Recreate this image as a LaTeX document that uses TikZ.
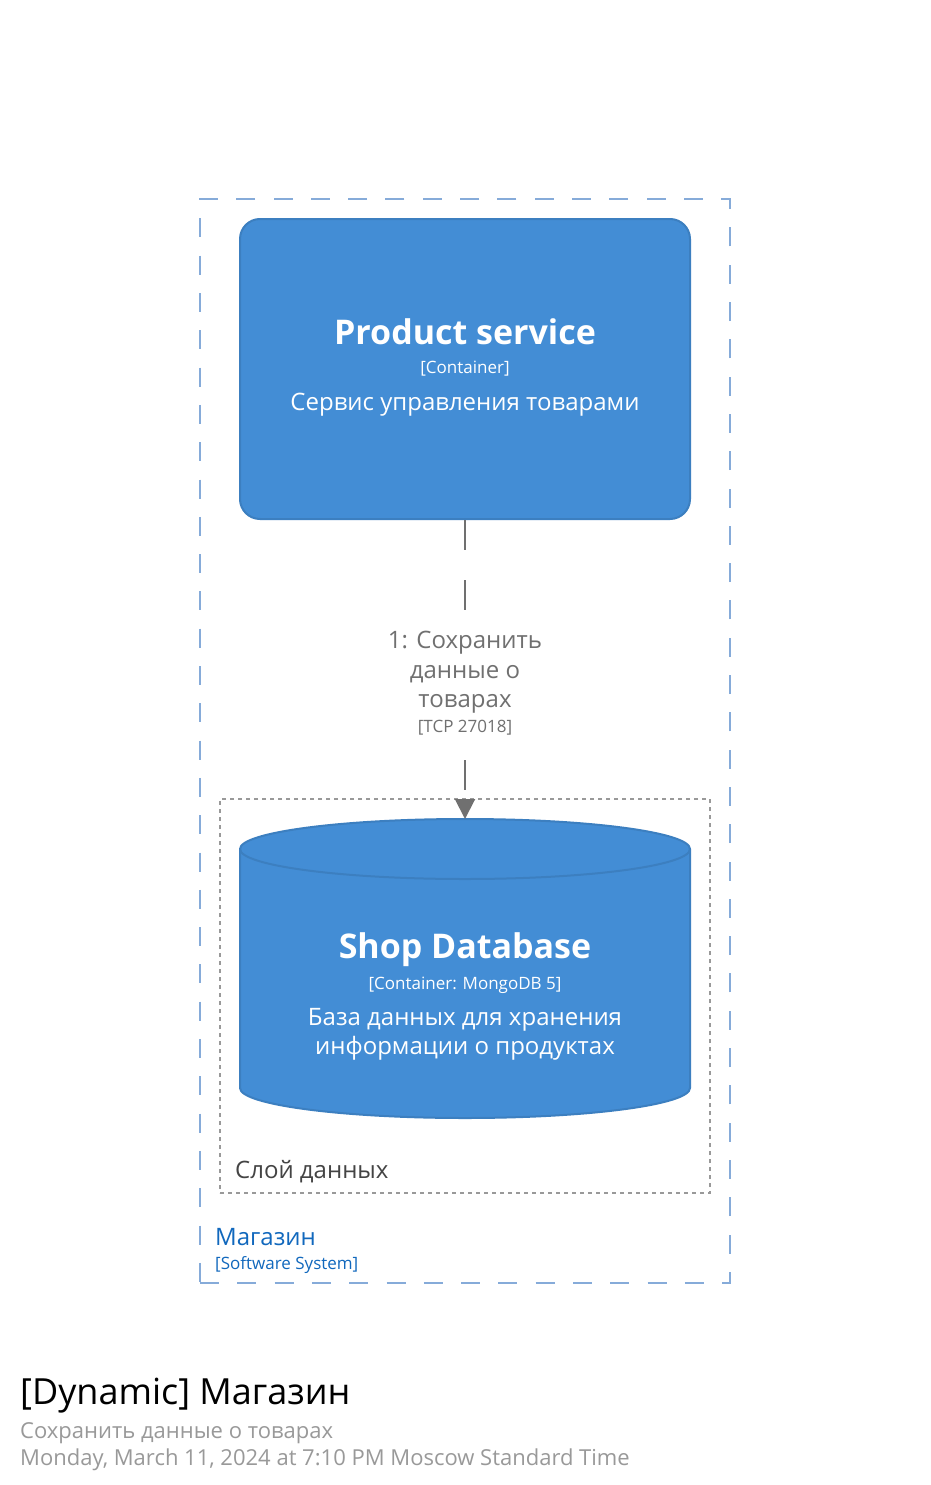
\documentclass[tikz,border=0pt]{standalone}
\usepackage{fontspec}
\setmainfont{Open Sans}
\usetikzlibrary{arrows.meta}
\definecolor{elfill}{HTML}{438DD5}
\definecolor{elstroke}{HTML}{3C7FC0}
\definecolor{sysb}{HTML}{86ABD9}
\definecolor{sysname}{HTML}{1168BD}
\definecolor{relgray}{HTML}{707070}
\definecolor{grpgray}{HTML}{999999}
\definecolor{grptext}{HTML}{444444}
\definecolor{metagray}{HTML}{999999}
\begin{document}
\begin{tikzpicture}[x=1pt,y=-1pt,
  elbox/.style={draw=elstroke, fill=elfill, line width=2pt, rounded corners=20pt,
    minimum width=450pt, minimum height=300pt, inner sep=0pt},
  nametext/.style={anchor=base, text=white, inner sep=0pt, font=\fontsize{34}{40}\selectfont\bfseries},
  metatext/.style={anchor=base, text=white, inner sep=0pt, font=\fontsize{17}{20}\selectfont},
  desctext/.style={anchor=base, text=white, inner sep=0pt, font=\fontsize{24}{29}\selectfont},
  sysbound/.style={draw=sysb, line width=2pt, dash pattern=on 19pt off 18.3pt,
    minimum width=530pt, minimum height=1084pt, inner sep=0pt},
  grpbound/.style={draw=grpgray, line width=1.5pt, dash pattern=on 4pt off 4pt,
    minimum width=490pt, minimum height=394pt, inner sep=0pt},
  rel/.style={draw=relgray, line width=2pt, dash pattern=on 30pt off 30pt,
    -{Triangle[length=20pt,width=20pt]}},
  reltext/.style={text=relgray, fill=white, align=center, inner sep=0pt},
  plain/.style={anchor=base west, inner sep=0pt}
]
\useasboundingbox (0,0) rectangle (930,1485);
\fill[white] (0,0) rectangle (930,1485);

% software system boundary
\node[sysbound] (sys) at (465,741) {};
\node[plain, text=sysname, font=\fontsize{24}{29}\selectfont] (sysname) at (215,1245) {Магазин};
\node[plain, text=sysname, font=\fontsize{17}{20}\selectfont] (systype) at (215,1269) {[Software System]};

% group boundary
\node[grpbound] (grp) at (465,996) {};
\node[plain, text=grptext, font=\fontsize{24}{29}\selectfont] (grpname) at (235,1178) {Слой данных};

% product service
\node[elbox] (ps) at (465,369) {};
\node[nametext] (psname) at (465,344) {Product service};
\node[metatext] (pstype) at (465,373) {[Container]};
\node[desctext] (psdesc) at (465,410) {Сервис управления товарами};

% database cylinder
\path[draw=elstroke, fill=elfill, line width=2pt]
  (240,849) -- (240,1088) arc (180:0:225 and 30) -- (690,849) arc (0:-180:225 and 30) -- cycle;
\draw[elstroke, line width=2pt] (240,849) arc (180:0:225 and 30);
\coordinate (dbtop) at (465,819);
\node[nametext] (dbname) at (465,958) {Shop Database};
\node[metatext] (dbtype) at (465,989) {[Container: MongoDB 5]};
\node[desctext] (dbdesc1) at (465,1025) {База данных для хранения};
\node[desctext] (dbdesc2) at (465,1054) {информации о продуктах};

% relationship
\draw[rel] (ps.south) -- (dbtop);
\node[reltext, minimum width=160pt, minimum height=124pt] (rellabel) at (465,684) {};
\node[anchor=base, inner sep=0pt, text=relgray, font=\fontsize{24}{29}\selectfont] (rel1) at (465,648) {1: Сохранить};
\node[anchor=base, inner sep=0pt, text=relgray, font=\fontsize{24}{29}\selectfont] (rel2) at (465,678) {данные о};
\node[anchor=base, inner sep=0pt, text=relgray, font=\fontsize{24}{29}\selectfont] (rel3) at (465,707) {товарах};
\node[anchor=base, inner sep=0pt, text=relgray, font=\fontsize{17}{20}\selectfont] (rel4) at (465,732) {[TCP 27018]};

% title block
\node[plain, text=black, font=\fontsize{36}{43}\selectfont] (title) at (20,1404) {[Dynamic] Магазин};
\node[plain, text=metagray, font=\fontsize{22}{27}\selectfont] (subtitle) at (20,1438) {Сохранить данные о товарах};
\node[plain, text=metagray, font=\fontsize{22}{27}\selectfont] (date) at (20,1465) {Monday, March 11, 2024 at 7:10 PM Moscow Standard Time};
\end{tikzpicture}
\end{document}
